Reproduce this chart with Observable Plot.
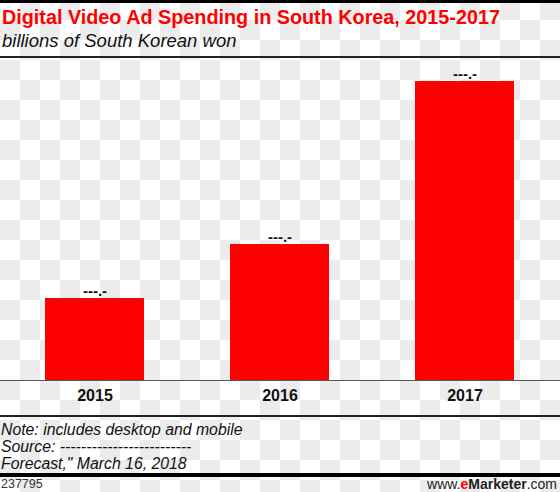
<!DOCTYPE html>
<html>
<head>
<meta charset="utf-8">
<script src="https://cdn.jsdelivr.net/npm/d3@7"></script>
<script src="https://cdn.jsdelivr.net/npm/@observablehq/plot@0.6"></script>
<style>
  html, body { margin: 0; padding: 0; }
  body {
    width: 560px; height: 492px; overflow: hidden; position: relative;
    font-family: "Liberation Sans", Arial, sans-serif;
    background-color: #fff;
    background-image: conic-gradient(#ececec 0 25%, #fff 0 50%, #ececec 0 75%, #fff 0);
    background-size: 40px 40px;
    background-position: 0 0;
  }
  .abs { position: absolute; white-space: nowrap; }
  .rule { position: absolute; left: 0; width: 560px; }
  #title { left: 2px; top: 7px; font-size: 19.8px; line-height: 20px; font-weight: bold; color: #ff0000; }
  #subtitle { left: 2px; top: 31px; font-size: 18.5px; line-height: 20px; font-style: italic; color: #111; }
  #notes { left: 1px; top: 421px; font-size: 15.8px; line-height: 17px; font-style: italic; color: #111; }
  #chartId { left: 1px; top: 478px; font-size: 12.5px; line-height: 13px; color: #333; }
  #site { right: 3px; top: 477px; font-size: 14px; line-height: 14px; color: #222; }
  #site b { font-weight: bold; }
  #site .e { color: #ff0000; }
  #chart { position: absolute; left: 0; top: 58px; }
</style>
</head>
<body>
<div class="rule" style="top:0; height:2.5px; background:#000;"></div>
<div id="title" class="abs">Digital Video Ad Spending in South Korea, 2015-2017</div>
<div id="subtitle" class="abs">billions of South Korean won</div>
<div class="rule" style="top:56px; height:1.5px; background:#222;"></div>
<div id="chart"></div>
<div class="rule" style="top:415px; height:1.5px; background:#222;"></div>
<div id="notes" class="abs">Note: includes desktop and mobile<br>Source: -------------------------<br>Forecast," March 16, 2018</div>
<div class="rule" style="top:473px; height:3.5px; background:#000;"></div>
<div id="chartId" class="abs">237795</div>
<div id="site" class="abs">www.<b class="e">e</b><b>Marketer</b>.com</div>
<script>
// Digital video ad spending, billions of South Korean won
const years = ["2015", "2016", "2017"];
const spending = [164, 272, 598];
const valueLabels = ["---.-", "---.-", "---.-"];

const rows = years.map((year, i) => ({year, value: spending[i], label: valueLabels[i]}));

const chart = Plot.plot({
  width: 560,
  height: 354,
  marginLeft: 0,
  marginRight: 0,
  marginTop: 0,
  marginBottom: 32,
  style: {background: "transparent", fontFamily: "Liberation Sans, Arial, sans-serif"},
  x: {domain: years, paddingInner: 0.4624, paddingOuter: 0.2366, axis: null},
  y: {domain: [0, 644], axis: null},
  marks: [
    Plot.barY(rows, {x: "year", y: "value", fill: "#ff0000"}),
    Plot.ruleY([0], {stroke: "#555", strokeWidth: 1}),
    Plot.text(rows, {
      x: "year", y: "value", text: "label",
      lineAnchor: "bottom", dy: -3,
      fontSize: 15, fontWeight: "bold", fill: "#111"
    }),
    Plot.axisX({
      tickSize: 0, tickPadding: 9, label: null,
      fontSize: 16, fontWeight: "bold", fill: "#111"
    })
  ]
});
document.getElementById("chart").appendChild(chart);
</script>
</body>
</html>
